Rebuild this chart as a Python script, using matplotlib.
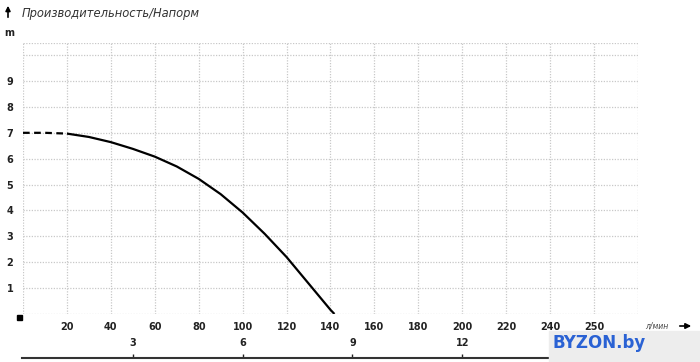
import matplotlib
matplotlib.use("Agg")
import matplotlib.pyplot as plt
from matplotlib.patches import Rectangle

# Data (flow l/min vs head m)
flow_dashed = [0, 10, 20]
head_dashed = [7.0, 7.0, 6.97]
flow = [20, 30, 40, 50, 60, 70, 80, 90, 100, 110, 120, 130, 140, 141.8]
head = [6.97, 6.84, 6.64, 6.38, 6.08, 5.7, 5.22, 4.63, 3.92, 3.1, 2.2, 1.18, 0.16, 0.0]

x_ticks = [20, 40, 60, 80, 100, 120, 140, 160, 180, 200, 220, 240, 260]
x_labels = ["20", "40", "60", "80", "100", "120", "140", "160", "180", "200", "220", "240", "250"]
y_ticks = [1, 2, 3, 4, 5, 6, 7, 8, 9]
m3h_ticks = [3, 6, 9, 12]

W, H = 700, 362
fig = plt.figure(figsize=(7, 3.62), dpi=100)

def fx(p): return p / W
def fy(p): return 1 - p / H

x0, x1 = 23, 638
y0, y1 = 314, 43
ax = fig.add_axes([fx(x0), fy(y0), (x1 - x0) / W, (y0 - y1) / H])
ax.set_xlim(0, 280)
ax.set_ylim(0, 10.47)
for s in ax.spines.values():
    s.set_visible(False)

grid_kw = dict(color="#c8c8c8", lw=0.9, ls=(0, (1, 1.2)), zorder=1)
for gx in range(0, 281, 20):
    ax.axvline(gx, **grid_kw)
for gy in list(range(0, 11)) + [10.47]:
    ax.axhline(gy, **grid_kw)

ax.plot(flow_dashed, head_dashed, color="black", lw=1.6, ls=(0, (3, 2)), zorder=3)
ax.plot(flow, head, color="black", lw=1.6, zorder=3, solid_capstyle="butt")

ax.set_xticks(x_ticks)
ax.set_xticklabels(x_labels)
ax.set_yticks(y_ticks)
ax.set_yticklabels([str(v) for v in y_ticks])
ax.tick_params(axis="both", length=0, labelsize=7, colors="#222222")
ax.tick_params(axis="x", pad=6)
ax.tick_params(axis="y", pad=7)
for lab in ax.get_xticklabels() + ax.get_yticklabels():
    lab.set_fontweight("bold")

# square at origin
fig.patches.append(Rectangle((fx(16.5), fy(320)), 5 / W, 5 / H, transform=fig.transFigure,
                             color="black", figure=fig))

# secondary m3/h axis
ax2 = fig.add_axes([fx(22), fy(358), (x1 - 22) / W, 0.0001])
ax2.set_yticks([])
ax2.set_xlim(0 - (1 / 2.2) * 0.06, 16.8)
for k in ["left", "right", "top"]:
    ax2.spines[k].set_visible(False)
ax2.spines["bottom"].set_color("#333333")
ax2.spines["bottom"].set_linewidth(1.5)
ax2.set_xticks(m3h_ticks)
ax2.set_xticklabels([str(v) for v in m3h_ticks])
ax2.tick_params(axis="x", direction="in", length=3, width=1, colors="#222222",
                labelbottom=False, labeltop=True, top=False, bottom=True, labelsize=7, pad=7)
for lab in ax2.get_xticklabels():
    lab.set_fontweight("bold")
ax2.patch.set_visible(False)

# title and labels
fig.text(fx(22), fy(14), "Производительность/Напорм", fontsize=8.3, style="italic",
         color="#333333", va="center", ha="left")
ax.annotate("", xy=(fx(8), fy(3)), xytext=(fx(8), fy(20)), xycoords="figure fraction",
            arrowprops=dict(arrowstyle="-|>", color="black", lw=1.2, mutation_scale=7))
fig.text(fx(9), fy(33), "m", fontsize=7, fontweight="bold", color="#222222", va="center", ha="center")
fig.text(fx(645), fy(326), "л/мин", fontsize=5.5, style="italic", color="#444444", va="center", ha="left")
ax.annotate("", xy=(fx(694), fy(326)), xytext=(fx(677), fy(326)), xycoords="figure fraction",
            arrowprops=dict(arrowstyle="-|>", color="black", lw=1.2, mutation_scale=8))

# watermark
fig.patches.append(Rectangle((fx(549), fy(362)), 151 / W, 31 / H, transform=fig.transFigure,
                             color="#ededed", figure=fig, zorder=5))
fig.text(fx(552), fy(343), "BYZON.by", fontsize=12, fontweight="bold", color="#2a62d4",
         va="center", ha="left", zorder=6)

fig.savefig("out.png", dpi=100)
